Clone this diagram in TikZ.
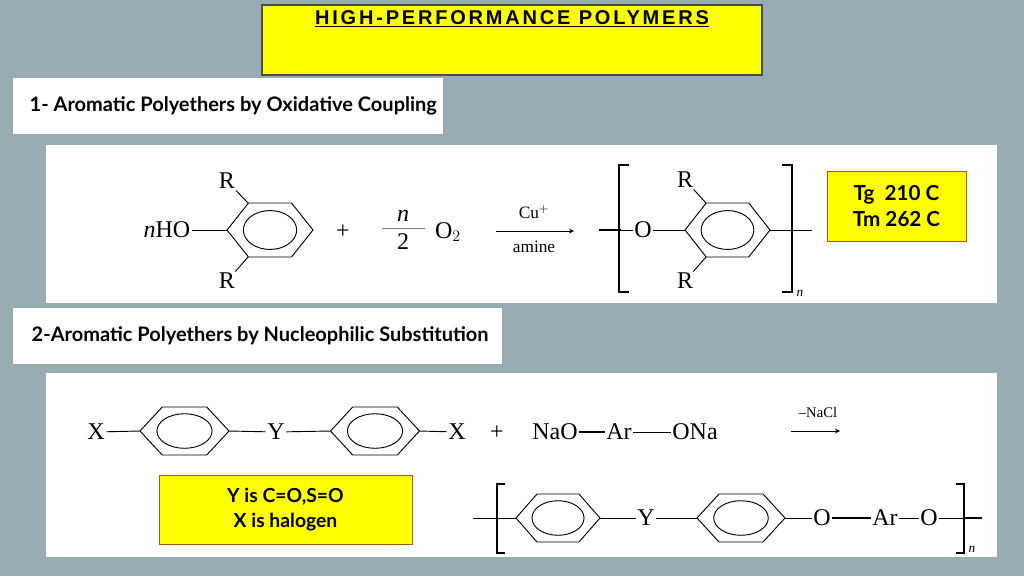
\documentclass[tikz,border=0pt]{standalone}
\usepackage{fontspec}
\setmainfont{Liberation Serif}
\newfontfamily\labelfont{Lato}
\newfontfamily\titlefont[LetterSpace=14]{Liberation Sans}
\definecolor{slide}{HTML}{9AACB3}
\definecolor{hiyel}{HTML}{FFFF00}
\tikzset{
  atom/.style={inner sep=1pt, font=\fontsize{18}{20}\selectfont},
  small/.style={inner sep=1pt, font=\fontsize{13}{14}\selectfont},
  lbl/.style={font=\labelfont\bfseries\fontsize{15}{17}\selectfont},
  bond/.style={line width=0.7pt},
  hbond/.style={line width=2pt},
  brk/.style={line width=0.8pt}
}
% flattened ring: centre (#1,#2), half width #3, half height #4
\newcommand{\ring}[4]{%
  \draw[bond, shift={(#1,#2)}] (-#3,0) -- (-#3/2,-#4) -- (#3/2,-#4) -- (#3,0)
    -- (#3/2,#4) -- (-#3/2,#4) -- cycle;
  \draw[bond, shift={(#1,#2)}] (0,0) ellipse ({0.62*#3*0.75pt} and {0.72*#4*0.75pt});
}
\begin{document}
\begin{tikzpicture}[x=0.75pt, y=-0.75pt]
  \fill[slide] (0,0) rectangle (1024,576);

  % title
  \draw[fill=hiyel, draw=black!70, line width=1.5pt] (262,5) rectangle (762,75);
  \node[font=\titlefont\bfseries\fontsize{15}{17}\selectfont] (title) at (512,19)
    {\underline{HIGH-PERFORMANCE POLYMERS}};

  % headings and panels
  \fill[white] (13,78) rectangle (443,134);
  \node[lbl, anchor=west] (head1) at (25,106) {1- Aromatic Polyethers by Oxidative Coupling};
  \fill[white] (46,145) rectangle (997,303);
  \fill[white] (13,308) rectangle (502,364);
  \node[lbl, anchor=west] (head2) at (27,336) {2-Aromatic Polyethers by Nucleophilic Substitution};
  \fill[white] (46,373) rectangle (997,557);

  % reaction 1
  \ring{270}{230}{43}{27}
  \node[atom] (nho) at (167,230) {\textit{n}HO};
  \node[atom] (r1t) at (227,181) {R};
  \node[atom] (r1b) at (227,281) {R};
  \draw[bond] (nho) -- (227,230);
  \draw[bond] (r1t) -- (248,203);
  \draw[bond] (r1b) -- (248,257);
  \node[atom] (plus1) at (343,232) {+};
  \node[atom] (nnum) at (403,216) {\textit{n}};
  \node[atom] (nden) at (403,242) {2};
  \draw[bond, gray] (382,228) -- (425,228);
  \node[atom] (o2) at (448,232) {O$_2$};
  \coordinate (a1s) at (496,231);
  \coordinate (a1e) at (574,231);
  \draw[bond, -stealth] (a1s) -- (a1e);
  \node[small] (cat) at (534,212) {Cu$^{+}$};
  \node[small] (amine) at (534,247) {amine};

  \ring{727.5}{230}{42.5}{27}
  \node[atom] (o1) at (643,230) {O};
  \node[atom] (r2t) at (685,180) {R};
  \node[atom] (r2b) at (685,281) {R};
  \coordinate (p1l) at (599,230);
  \coordinate (p1m) at (621,230);
  \coordinate (p1r) at (812,230);
  \draw[hbond] (p1l) -- (p1m);
  \draw[bond] (p1m) -- (o1);
  \draw[bond] (o1) -- (685,230);
  \draw[bond] (770,230) -- (p1r);
  \draw[bond] (r2t) -- (706,203);
  \draw[bond] (r2b) -- (706,257);
  \draw[brk] (629,165) -- (619,165) -- (619,292) -- (629,292);
  \draw[brk] (782,165) -- (792,165) -- (792,292) -- (782,292);
  \node[atom, font=\itshape\fontsize{10}{11}\selectfont] (n1) at (800,293) {n};

  \node[draw=orange!70!black, fill=hiyel, minimum width=139*0.75pt, minimum height=70*0.75pt,
        align=center, lbl, font=\labelfont\bfseries\fontsize{15.5}{19}\selectfont] (tg) at (896.5,206)
        {Tg~~210 C\\Tm 262 C};

  % reaction 2
  \ring{184.5}{431}{44.5}{24}
  \ring{375}{431}{44.5}{24}
  \node[atom] (x1) at (96,432) {X};
  \node[atom] (y1) at (276,432) {Y};
  \node[atom] (x2) at (457,432) {X};
  \draw[bond] (x1) -- (140,431);
  \draw[bond] (229,431) -- (y1);
  \draw[bond] (y1) -- (330.5,431);
  \draw[bond] (419.5,431) -- (x2);
  \node[atom] (plus2) at (497,433) {+};
  \node[atom] (nao) at (555,432) {NaO};
  \node[atom] (ar1) at (619,432) {Ar};
  \node[atom] (ona) at (695,432) {ONa};
  \draw[hbond] (nao) -- (ar1);
  \draw[bond] (ar1) -- (ona);
  \coordinate (a2s) at (791,431);
  \coordinate (a2e) at (840,431);
  \draw[bond, -stealth] (a2s) -- (a2e);
  \node[small, font=\fontsize{11}{12}\selectfont] (nacl) at (818,412) {--NaCl};

  \node[draw=orange!70!black, fill=hiyel, minimum width=253*0.75pt, minimum height=69*0.75pt,
        align=center, lbl, font=\labelfont\bfseries\fontsize{14.5}{19}\selectfont] (ybox) at (285.5,509.5)
        {Y is C=O,S=O\\X is halogen};

  \ring{558}{518}{42}{24}
  \ring{741}{518}{44}{24}
  \coordinate (p2l) at (473,518);
  \coordinate (p2m) at (964,518);
  \coordinate (p2r) at (982,518);
  \node[atom] (y2) at (646,518) {Y};
  \node[atom] (o3) at (822,518) {O};
  \node[atom] (ar2) at (885,518) {Ar};
  \node[atom] (o4) at (929,518) {O};
  \draw[bond] (p2l) -- (516,518);
  \draw[bond] (600,518) -- (y2);
  \draw[bond] (y2) -- (697,518);
  \draw[bond] (785,518) -- (o3);
  \draw[hbond] (o3) -- (ar2);
  \draw[bond] (ar2) -- (o4);
  \draw[bond] (o4) -- (p2m);
  \draw[hbond] (p2m) -- (p2r);
  \draw[brk] (505,484) -- (497,484) -- (497,553) -- (505,553);
  \draw[brk] (956,484) -- (964,484) -- (964,553) -- (956,553);
  \node[atom, font=\itshape\fontsize{10}{11}\selectfont] (n2) at (972,549) {n};
\end{tikzpicture}
\end{document}
